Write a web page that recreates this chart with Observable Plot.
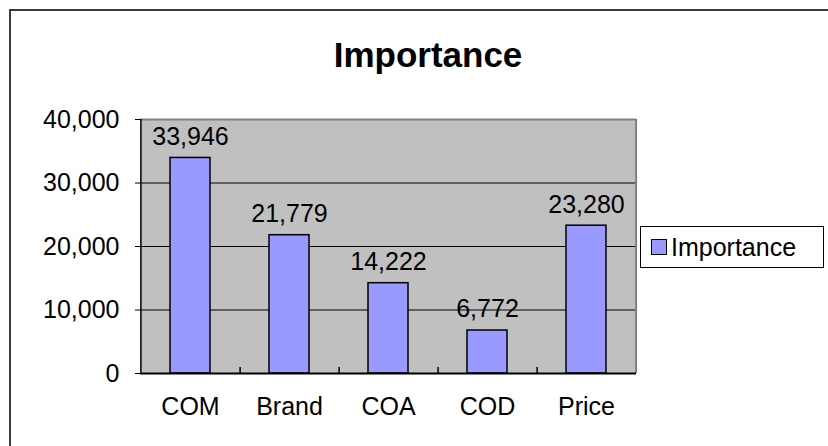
<!DOCTYPE html>
<html>
<head>
<meta charset="utf-8">
<script src="https://cdn.jsdelivr.net/npm/d3@7"></script>
<script src="https://cdn.jsdelivr.net/npm/@observablehq/plot@0.6"></script>
<style>
  html, body { margin: 0; padding: 0; background: #fff; }
  #wrap { position: relative; width: 828px; height: 446px; overflow: hidden; font-family: "Liberation Sans", Arial, sans-serif; }
  #border { position: absolute; left: 9px; top: 9px; width: 840px; height: 460px; border: 2.5px solid #3a3a3a; box-sizing: border-box; }
  #title { position: absolute; left: 228px; width: 400px; top: 37px; line-height: 35px; text-align: center; font-weight: bold; font-size: 35px; color: #000; }
  #legend { position: absolute; left: 640px; top: 226px; width: 184px; height: 42px; box-sizing: border-box; border: 1.5px solid #000; background: #fff; display: flex; align-items: center; padding-left: 10px; font-size: 25px; color: #000; }
  #legend .sw { width: 16px; height: 16px; border: 1.5px solid #000; background: #9999ff; margin-right: 4px; box-sizing: border-box; }
  #chart { position: absolute; left: 0; top: 0; }
</style>
</head>
<body>
<div id="wrap">
  <div id="border"></div>
  <div id="chart"></div>
  <div id="title"></div>
  <div id="legend"><div class="sw"></div><span id="legtext"></span></div>
</div>
<script>
const title = "Importance";
const seriesName = "Importance";
const categories = ["COM", "Brand", "COA", "COD", "Price"];
const values = [33946, 21779, 14222, 6772, 23280];
const yTicks = [0, 10000, 20000, 30000, 40000];

const data = categories.map((c, i) => ({category: c, value: values[i]}));
const fmt = d3.format(",");

document.getElementById("title").textContent = title;
document.getElementById("legtext").textContent = seriesName;

const chart = Plot.plot({
  width: 828,
  height: 446,
  marginLeft: 140,
  marginRight: 192,
  marginTop: 119,
  marginBottom: 73,
  style: { fontFamily: "'Liberation Sans', Arial, sans-serif", fontSize: "25px", color: "#000", background: "transparent" },
  x: { domain: categories, paddingInner: 0.6, paddingOuter: 0.3, label: null, tickSize: 0, tickPadding: 24 },
  y: { domain: [0, 40000], ticks: yTicks, tickFormat: fmt, label: null, tickSize: 5, tickPadding: 16 },
  marks: [
    Plot.frame({ fill: "#c0c0c0", stroke: null }),
    Plot.ruleY(yTicks.filter(d => d > 0 && d < 40000), { stroke: "#000", strokeWidth: 1 }),
    Plot.ruleY([40000], { stroke: "#808080", strokeWidth: 2 }),
    Plot.ruleX(categories.slice(0, -1), { x: d => d, dx: 49.6, insetTop: 248, stroke: "#000", strokeWidth: 1.5 }),
    Plot.ruleX(categories.slice(-1), { x: d => d, dx: 49.6, stroke: "#808080", strokeWidth: 2 }),
    Plot.barY(data, { x: "category", y: "value", fill: "#9999ff", stroke: "#000", strokeWidth: 1.5 }),
    Plot.ruleY([0], { stroke: "#000", strokeWidth: 2 }),
    Plot.ruleX([categories[0]], { x: d => d, dx: -49.6, stroke: "#000", strokeWidth: 1.5 }),
    Plot.text(data, { x: "category", y: "value", text: d => fmt(d.value), dy: -21, fontSize: 25, fill: "#000" })
  ]
});
document.getElementById("chart").appendChild(chart);
</script>
</body>
</html>
